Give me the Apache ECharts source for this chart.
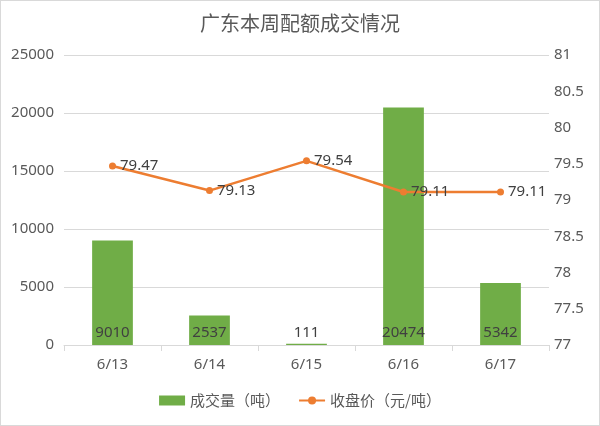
<!DOCTYPE html>
<html><head><meta charset="utf-8">
<script src="https://cdn.jsdelivr.net/npm/echarts@6/dist/echarts.min.js"></script>
<style>html,body{margin:0;padding:0;background:#fff}#c{width:598px;height:424px;border:1px solid #d9d9d9}</style>
</head><body><div id="c"></div>
<script>
const categories = ['6/13','6/14','6/15','6/16','6/17'];
const volume = [9010, 2537, 111, 20474, 5342];
const price = [79.47, 79.13, 79.54, 79.11, 79.11];
const titleText = '广东本周配额成交情况';
const volName = '成交量（吨）';
const priceName = '收盘价（元/吨）';

const font = '"Noto Sans", "Noto Sans CJK SC", sans-serif';
const chart = echarts.init(document.getElementById('c'));
chart.setOption({
  animation: false,
  textStyle: {fontFamily: font},
  title: {text: titleText, left: 'center', top: 7,
    textStyle: {fontSize: 20, fontWeight: 'normal', color: '#595959', fontFamily: '"Noto Sans CJK SC", sans-serif'}},
  legend: {bottom: 12, left: 'center', itemGap: 18, itemWidth: 26, itemHeight: 10,
    textStyle: {fontSize: 15, color: '#595959', fontFamily: '"Noto Sans CJK SC", sans-serif'},
    data: [{name: volName, icon: 'rect'}, {name: priceName}]},
  grid: {left: 63, right: 50, top: 54, bottom: 80, containLabel: false},
  xAxis: {type: 'category', data: categories,
    axisLine: {lineStyle: {color: '#d9d9d9'}},
    axisTick: {show: true, length: 6, lineStyle: {color: '#d9d9d9'}},
    axisLabel: {color: '#595959', fontSize: 15, margin: 12}},
  yAxis: [
    {type: 'value', min: 0, max: 25000, interval: 5000,
     axisLabel: {color: '#595959', fontSize: 15, margin: 10, formatter: v => String(v)},
     splitLine: {lineStyle: {color: '#d9d9d9'}},
     axisLine: {show: false}, axisTick: {show: false}},
    {type: 'value', min: 77, max: 81, interval: 0.5,
     axisLabel: {color: '#595959', fontSize: 15, margin: 5, formatter: v => String(v)},
     splitLine: {show: false}, axisLine: {show: false}, axisTick: {show: false}}
  ],
  series: [
    {name: volName, type: 'bar', data: volume, barWidth: '42%',
     itemStyle: {color: '#70AD47'},
     label: {show: true, position: 'insideBottom', distance: 5, color: '#404040', fontSize: 15}},
    {name: priceName, type: 'line', yAxisIndex: 1, data: price,
     symbol: 'circle', symbolSize: 7,
     lineStyle: {color: '#ED7D31', width: 2.5}, itemStyle: {color: '#ED7D31'},
     label: {show: true, position: 'right', distance: 4, color: '#404040', fontSize: 15}}
  ]
});
</script></body></html>
